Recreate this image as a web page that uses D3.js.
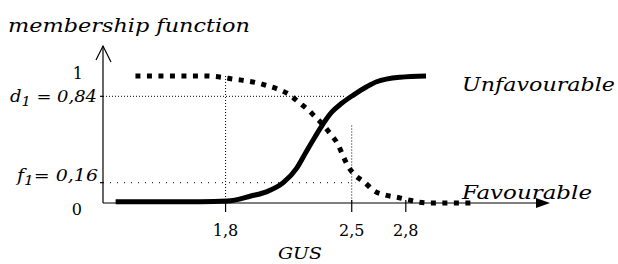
<!DOCTYPE html>
<html>
<head>
<meta charset="utf-8">
<script src="https://cdn.jsdelivr.net/npm/d3@7"></script>
<style>
  html, body { margin: 0; padding: 0; background: #fff; }
  svg { display: block; }
  text { font-family: "DejaVu Serif", "Liberation Serif", serif; fill: #000; }
  .it { font-style: italic; }
</style>
</head>
<body>
<svg id="chart" width="618" height="264"></svg>
<script>
// ---- data ----
const gusTicks = [1.8, 2.5, 2.8];
const gusTickLabels = ["1,8", "2,5", "2,8"];

const unfavX = [1.19, 1.66, 1.81, 1.94, 2.03, 2.12, 2.195, 2.25, 2.296, 2.342, 2.389, 2.444, 2.509, 2.583, 2.638, 2.768, 2.912];
const unfavY = [0.01, 0.01, 0.015, 0.055, 0.09, 0.16, 0.275, 0.41, 0.52, 0.625, 0.715, 0.785, 0.85, 0.915, 0.955, 0.99, 1.00];

const favX = [1.30, 1.686, 1.779, 1.841, 1.908, 1.973, 2.019, 2.093, 2.157, 2.209, 2.259, 2.296, 2.342, 2.379, 2.425, 2.452, 2.481, 2.518, 2.574, 2.618, 2.685, 2.75, 2.813, 2.868, 2.934, 3.18];
const favY = [1.00, 1.00, 0.99, 0.976, 0.963, 0.947, 0.929, 0.895, 0.85, 0.79, 0.732, 0.68, 0.614, 0.549, 0.457, 0.37, 0.286, 0.22, 0.16, 0.102, 0.063, 0.045, 0.025, 0.008, 0.00, 0.00];

const d1 = 0.84;
const f1 = 0.16;
const guide25Top = 0.61;

const seriesNames = ["Unfavourable", "Favourable"];
const axisTitleX = "GUS";
const axisTitleY = "membership function";

// ---- scales ----
const svg = d3.select("#chart");
const x = d3.scaleLinear().domain([1.12, 3.6]).range([103, 550]);
const y = d3.scaleLinear().domain([0, 1]).range([203, 76]);
const x0 = x.domain()[0];

// ---- guide lines (dotted) ----
const g = svg.append("g").attr("stroke", "#000").attr("stroke-width", 1).attr("fill", "none");
g.append("line").attr("x1", x(x0)).attr("x2", x(2.46)).attr("y1", y(d1)).attr("y2", y(d1))
  .attr("stroke-dasharray", "1,2");
g.append("line").attr("x1", x(x0)).attr("x2", x(2.52)).attr("y1", y(f1)).attr("y2", y(f1))
  .attr("stroke-dasharray", "1,6");
g.append("line").attr("x1", x(1.8)).attr("x2", x(1.8)).attr("y1", y(1)).attr("y2", y(0))
  .attr("stroke-dasharray", "1,2");
g.append("line").attr("x1", x(2.5)).attr("x2", x(2.5)).attr("y1", y(guide25Top)).attr("y2", y(0))
  .attr("stroke-dasharray", "1,2");

// ---- axes ----
const ax = svg.append("g").attr("stroke", "#000").attr("stroke-width", 1.2).attr("fill", "none");
ax.append("line").attr("x1", x(x0)).attr("x2", x(3.6) - 6).attr("y1", y(0)).attr("y2", y(0));
svg.append("path")
  .attr("d", `M${x(3.6)},${y(0)} L${x(3.6) - 14},${y(0) - 5} L${x(3.6) - 14},${y(0) + 5} Z`)
  .attr("fill", "#000");
ax.append("line").attr("x1", x(x0)).attr("x2", x(x0)).attr("y1", y(0)).attr("y2", 46);
ax.append("path").attr("d", `M${x(x0) - 7},${60} L${x(x0)},${46} L${x(x0) + 8},${62}`);

ax.selectAll("line.xt").data(gusTicks).enter().append("line").attr("class", "xt")
  .attr("x1", d => x(d)).attr("x2", d => x(d)).attr("y1", y(0) - 3).attr("y2", y(0) + 9);
ax.selectAll("line.yt").data([d1, f1]).enter().append("line").attr("class", "yt")
  .attr("x1", x(x0) - 3).attr("x2", x(x0)).attr("y1", d => y(d)).attr("y2", d => y(d));

svg.selectAll("text.xl").data(gusTicks).enter().append("text").attr("class", "xl")
  .attr("x", d => x(d)).attr("y", y(0) + 33).attr("text-anchor", "middle")
  .attr("font-size", 16).text((d, i) => gusTickLabels[i]);

svg.append("text").attr("x", 83).attr("y", y(1) + 3).attr("text-anchor", "end")
  .attr("font-size", 16).text("1");
svg.append("text").attr("x", 82).attr("y", y(0) + 12).attr("text-anchor", "end")
  .attr("font-size", 16).text("0");

const dl = svg.append("text").attr("class", "it").attr("x", 10).attr("y", y(d1) + 6)
  .attr("font-size", 16).attr("textLength", 87).attr("lengthAdjust", "spacingAndGlyphs");
dl.append("tspan").text("d");
dl.append("tspan").attr("dy", 4).attr("font-size", 13).text("1");
dl.append("tspan").attr("dy", -4).text(" = 0,84");

const fl = svg.append("text").attr("class", "it").attr("x", 17).attr("y", y(f1) - 2)
  .attr("font-size", 16).attr("textLength", 81).attr("lengthAdjust", "spacingAndGlyphs");
fl.append("tspan").text("f");
fl.append("tspan").attr("dy", 4).attr("font-size", 13).text("1");
fl.append("tspan").attr("dy", -4).text("= 0,16");

svg.append("text").attr("class", "it").attr("x", 8).attr("y", 32).attr("font-size", 19)
  .attr("textLength", 242).attr("lengthAdjust", "spacingAndGlyphs").text(axisTitleY);
svg.append("text").attr("class", "it").attr("x", 278).attr("y", 259).attr("font-size", 17)
  .attr("textLength", 44).attr("lengthAdjust", "spacingAndGlyphs").text(axisTitleX);

// ---- curves ----
const line = d3.line().x(d => x(d[0])).y(d => y(d[1])).curve(d3.curveMonotoneX);
const unfav = unfavX.map((v, i) => [v, unfavY[i]]);
const fav = favX.map((v, i) => [v, favY[i]]);

svg.append("path").datum(fav).attr("d", line)
  .attr("fill", "none").attr("stroke", "#000").attr("stroke-width", 5)
  .attr("stroke-dasharray", "5,6.5").attr("stroke-linecap", "butt");

svg.append("path").datum(unfav).attr("d", line)
  .attr("fill", "none").attr("stroke", "#000").attr("stroke-width", 5)
  .attr("stroke-linecap", "butt");

svg.append("text").attr("class", "it").attr("x", 462).attr("y", 91).attr("font-size", 19)
  .attr("textLength", 153).attr("lengthAdjust", "spacingAndGlyphs").text(seriesNames[0]);
svg.append("text").attr("class", "it").attr("x", 462).attr("y", 199).attr("font-size", 19)
  .attr("textLength", 130).attr("lengthAdjust", "spacingAndGlyphs").text(seriesNames[1]);
</script>
</body>
</html>
